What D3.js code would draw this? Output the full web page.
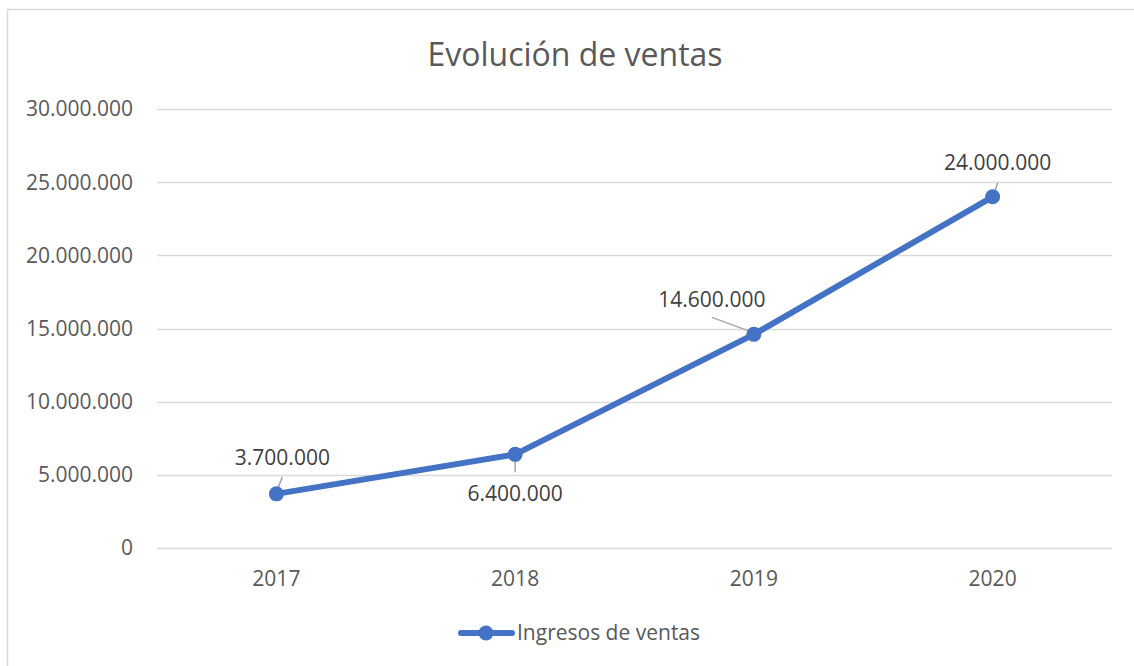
<!DOCTYPE html>
<html>
<head>
<meta charset="utf-8">
<script src="https://cdn.jsdelivr.net/npm/d3@7"></script>
<style>
	html, body { margin: 0; padding: 0; background: #fff; }
	#canvas { width: 1134px; height: 666px; }
	text { font-family: 'Open Sans', 'Noto Sans', sans-serif; fill: #595959; }
</style>
</head>
<body>
<div id="canvas"></div>
<script>
const years = ['2017', '2018', '2019', '2020'];
const ingresos = [3700000, 6400000, 14600000, 24000000];
const yTicks = [0, 5000000, 10000000, 15000000, 20000000, 25000000, 30000000];
const seriesName = 'Ingresos de ventas';
const chartTitle = 'Evolución de ventas';

// label placement relative to the point: text centre offset, leader ends
const labelLayout = [
	{ tx: 6, ty: -36, lx1: 0, ly1: -2, lx2: 6, ly2: -17 },
	{ tx: 0, ty: 39, lx1: 0, ly1: 2, lx2: 0, ly2: 18 },
	{ tx: -42, ty: -35, lx1: -1, ly1: -2, lx2: -42, ly2: -17 },
	{ tx: 5, ty: -34, lx1: 1, ly1: -1, lx2: 5, ly2: -14 },
];

const fmt = v => d3.format(',')(v).replace(/,/g, '.');

const chart = {
	width: 1134,
	height: 666,
	margins: { top: 109, right: 22, bottom: 118, left: 157 },
	color: '#4472c4',
	fontSize: 21,
};

drawChart();

function drawChart() {
	const { width, height, margins, color, fontSize } = chart;

	const svg = d3.select('#canvas').append('svg')
		.attr('width', width)
		.attr('height', height);

	svg.append('rect')
		.attr('x', 7.5).attr('y', 9.5)
		.attr('width', 1140).attr('height', 670)
		.attr('fill', '#fff')
		.attr('stroke', '#d9d9d9')
		.attr('stroke-width', 1.5);

	const x = d3.scaleBand()
		.domain(years)
		.range([margins.left, width - margins.right]);

	const y = d3.scaleLinear()
		.domain([0, 30000000])
		.range([height - margins.bottom, margins.top]);

	// grid lines
	svg.append('g')
		.selectAll('line')
		.data(yTicks)
		.join('line')
		.attr('x1', margins.left)
		.attr('x2', width - margins.right)
		.attr('y1', d => Math.round(y(d)) + 0.5)
		.attr('y2', d => Math.round(y(d)) + 0.5)
		.attr('stroke', '#d9d9d9')
		.attr('stroke-width', 1.5);

	// y axis labels
	svg.append('g')
		.selectAll('text')
		.data(yTicks)
		.join('text')
		.attr('x', 133)
		.attr('y', d => y(d))
		.attr('dy', '0.35em')
		.attr('text-anchor', 'end')
		.attr('font-size', fontSize)
		.text(d => fmt(d));

	// x axis labels
	svg.append('g')
		.selectAll('text')
		.data(years)
		.join('text')
		.attr('x', d => x(d) + x.bandwidth() / 2)
		.attr('y', 579)
		.attr('dy', '0.35em')
		.attr('text-anchor', 'middle')
		.attr('font-size', fontSize)
		.text(d => d);

	// title
	svg.append('text')
		.attr('x', 575)
		.attr('y', 55)
		.attr('dy', '0.35em')
		.attr('text-anchor', 'middle')
		.attr('font-size', 32)
		.text(chartTitle);

	const points = years.map((yr, i) => ({
		year: yr,
		value: ingresos[i],
		px: x(yr) + x.bandwidth() / 2,
		py: y(ingresos[i]),
		layout: labelLayout[i],
	}));

	// leader lines
	svg.append('g')
		.selectAll('line')
		.data(points)
		.join('line')
		.attr('x1', d => d.px + d.layout.lx1)
		.attr('y1', d => d.py + d.layout.ly1)
		.attr('x2', d => d.px + d.layout.lx2)
		.attr('y2', d => d.py + d.layout.ly2)
		.attr('stroke', '#a6a6a6')
		.attr('stroke-width', 1.5);

	const line = d3.line().x(d => d.px).y(d => d.py);

	svg.append('path')
		.datum(points)
		.attr('d', line)
		.attr('fill', 'none')
		.attr('stroke', color)
		.attr('stroke-width', 6)
		.attr('stroke-linejoin', 'round')
		.attr('stroke-linecap', 'round');

	svg.append('g')
		.selectAll('circle')
		.data(points)
		.join('circle')
		.attr('cx', d => d.px)
		.attr('cy', d => d.py)
		.attr('r', 7.5)
		.attr('fill', color);

	// data labels
	svg.append('g')
		.selectAll('text')
		.data(points)
		.join('text')
		.attr('x', d => d.px + d.layout.tx)
		.attr('y', d => d.py + d.layout.ty)
		.attr('dy', '0.35em')
		.attr('text-anchor', 'middle')
		.attr('font-size', fontSize)
		.style('fill', '#404040')
		.text(d => fmt(d.value));

	// legend
	const legend = svg.append('g');
	legend.append('line')
		.attr('x1', 461).attr('x2', 512)
		.attr('y1', 633).attr('y2', 633)
		.attr('stroke', color)
		.attr('stroke-width', 6)
		.attr('stroke-linecap', 'round');
	legend.append('circle')
		.attr('cx', 486).attr('cy', 633).attr('r', 7.5)
		.attr('fill', color);
	legend.append('text')
		.attr('x', 517)
		.attr('y', 633)
		.attr('dy', '0.35em')
		.attr('font-size', fontSize)
		.text(seriesName);
}
</script>
</body>
</html>
